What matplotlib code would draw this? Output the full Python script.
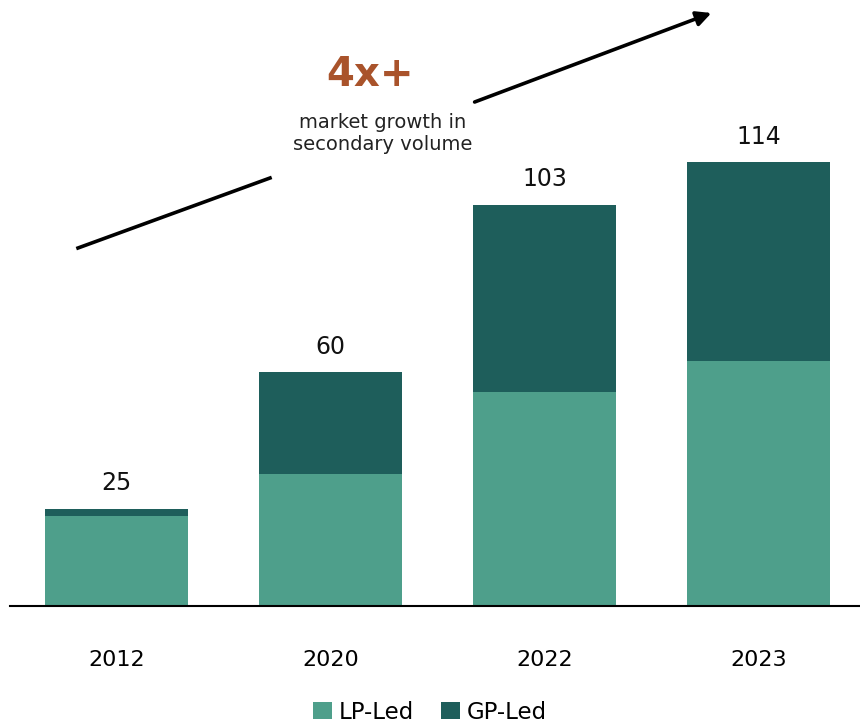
import matplotlib.pyplot as plt

years = ['2012', '2020', '2022', '2023']
lp_led = [23, 34, 55, 63]
gp_led = [2, 26, 48, 51]
totals = [25, 60, 103, 114]

LP_COLOR = '#4e9f8b'
GP_COLOR = '#1e5e5b'

plt.rcParams['font.family'] = ['DejaVu Sans']

W, H = 860, 724
fig = plt.figure(figsize=(W / 100, H / 100), dpi=100)
# axes: left edge at 10px, baseline at 606px from top
ax = fig.add_axes([10 / W, (H - 606) / H, 850 / W, 606 / H])

x = list(range(len(years)))
ax.bar(x, lp_led, width=0.67, color=LP_COLOR, label='LP-Led')
ax.bar(x, gp_led, width=0.67, bottom=lp_led, color=GP_COLOR, label='GP-Led')

for xi, t in zip(x, totals):
    ax.text(xi, t + 3.5, str(t), ha='center', va='bottom', fontsize=17, color='#111111')

ax.set_xlim(-106.5 / 214, 3 + 101.5 / 214)
ax.set_ylim(0, 606 / 3.893)
ax.set_yticks([])
ax.set_xticks(x)
ax.set_xticklabels(years, fontsize=16)
ax.tick_params(axis='x', length=0, pad=32)
for s in ['top', 'right', 'left']:
    ax.spines[s].set_visible(False)
ax.spines['bottom'].set_linewidth(1.5)


def fpos(px, py):
    return (px / W, 1 - py / H)


# growth arrow, split around the annotation text
fig.add_artist(plt.Line2D([78 / W, 270 / W], [1 - 248 / H, 1 - 178 / H],
                          color='black', lw=2.6))
fig.patches.append(plt.matplotlib.patches.FancyArrowPatch(
    fpos(472, 103), fpos(714, 12), transform=fig.transFigure,
    arrowstyle='-|>', mutation_scale=22, color='black', lw=2.6))

fig.text(370 / W, 1 - 75 / H, '4x+', ha='center', va='center',
         fontsize=29, fontweight='bold', color='#a9532b')
fig.text(383 / W, 1 - 133 / H, 'market growth in\nsecondary volume',
         ha='center', va='center', fontsize=14, color='#222222', linespacing=1.2)

fig.legend(loc='lower center', bbox_to_anchor=(0.5, -0.028), ncol=2, frameon=False,
           fontsize=16.5, handlelength=0.8, handleheight=0.8, handletextpad=0.3,
           columnspacing=1.2)

fig.savefig('out.png', dpi=100)
